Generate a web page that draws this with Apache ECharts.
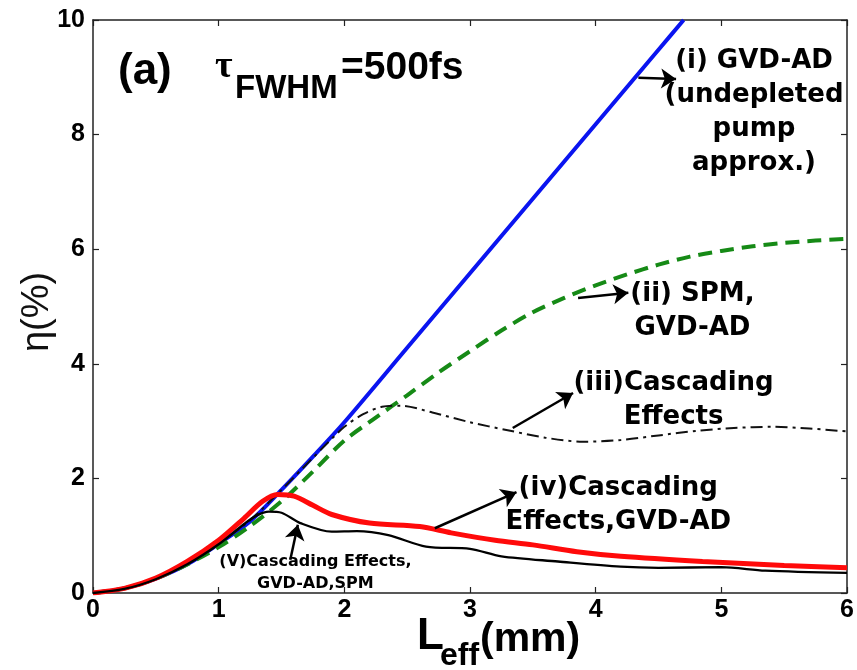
<!DOCTYPE html>
<html>
<head>
<meta charset="utf-8">
<script src="https://cdn.jsdelivr.net/npm/echarts@6/dist/echarts.min.js"></script>
<style>
  html, body { margin: 0; background: #fff; }
  #main { width: 857px; height: 670px; }
</style>
</head>
<body>
<div id="main"></div>
<script>
// (i) GVD-AD, undepleted pump
const gvdX = [0, 0.25, 0.5, 0.75, 1, 1.25, 1.5, 1.75, 2, 2.5, 3, 3.5, 4, 4.5, 4.7];
const gvdY = [0, 0.08, 0.25, 0.5, 0.86, 1.25, 1.8, 2.38, 2.98, 4.28, 5.58, 6.88, 8.18, 9.48, 10];
// (ii) SPM, GVD-AD
const spmX = [0, 0.25, 0.5, 0.75, 1, 1.25, 1.5, 1.75, 2, 2.25, 2.5, 2.75, 3, 3.25, 3.5, 3.75, 4, 4.25, 4.5, 4.75, 5, 5.25, 5.5, 5.75, 6];
const spmY = [0, 0.08, 0.25, 0.5, 0.8, 1.17, 1.6, 2.12, 2.66, 3.06, 3.45, 3.85, 4.22, 4.58, 4.9, 5.15, 5.37, 5.56, 5.73, 5.87, 5.97, 6.05, 6.11, 6.15, 6.18];
// (iii) cascading effects
const cascX = [0, 0.25, 0.5, 0.75, 1, 1.25, 1.5, 1.75, 2, 2.15, 2.3, 2.45, 2.7, 3, 3.3, 3.6, 3.9, 4.2, 4.5, 4.8, 5.1, 5.4, 5.7, 6];
const cascY = [0, 0.08, 0.25, 0.5, 0.86, 1.27, 1.8, 2.36, 2.9, 3.12, 3.25, 3.27, 3.15, 2.98, 2.84, 2.71, 2.64, 2.67, 2.75, 2.83, 2.88, 2.9, 2.87, 2.82];
// (iv) cascading effects, GVD-AD
const cgX = [0, 0.25, 0.5, 0.75, 1, 1.2, 1.35, 1.47, 1.6, 1.75, 1.9, 2.2, 2.6, 2.85, 3.2, 3.5, 3.85, 4.2, 4.85, 5.5, 6];
const cgY = [0, 0.08, 0.26, 0.55, 0.92, 1.3, 1.6, 1.72, 1.69, 1.53, 1.37, 1.22, 1.16, 1.05, 0.92, 0.84, 0.72, 0.64, 0.55, 0.48, 0.44];
// (v) cascading effects, GVD-AD, SPM
const cgsX = [0, 0.25, 0.5, 0.75, 1, 1.2, 1.3, 1.4, 1.5, 1.65, 1.9, 2.1, 2.35, 2.65, 3, 3.25, 3.7, 4.2, 4.5, 5, 5.35, 6];
const cgsY = [0, 0.07, 0.24, 0.5, 0.85, 1.2, 1.35, 1.42, 1.4, 1.22, 1.07, 1.08, 1.01, 0.81, 0.77, 0.64, 0.55, 0.46, 0.44, 0.45, 0.39, 0.35];

// annotation text blocks: [text, centre x, top y] in data units
const noteText = [
  '(i) GVD-AD\n(undepleted\npump\napprox.)',
  '(ii) SPM,\nGVD-AD',
  '(iii)Cascading\nEffects',
  '(iv)Cascading\nEffects,GVD-AD',
  '(V)Cascading Effects,\nGVD-AD,SPM'
];
const noteAt = [[5.26, 9.58], [4.77, 5.51], [4.62, 3.96], [4.18, 2.13], [1.77, 0.73]];
// arrows: [from, to] in data units
const arrows = [
  [[4.34, 8.99], [4.64, 8.97]],
  [[3.86, 5.15], [4.26, 5.24]],
  [[3.34, 2.88], [3.82, 3.49]],
  [[2.72, 1.13], [3.37, 1.76]],
  [[1.57, 0.58], [1.63, 1.19]]
];

const zip = (xs, ys) => xs.map((x, i) => [x, ys[i]]);
const chart = echarts.init(document.getElementById('main'));

const boxAxis = {
  min: 0,
  axisLine: { show: true, onZero: false, lineStyle: { color: '#222', width: 1.5 } },
  axisTick: { show: true, inside: true, length: 6, lineStyle: { color: '#222', width: 1.2 } },
  splitLine: { show: false },
};
const tickFont = { color: '#000', fontFamily: 'Liberation Sans', fontWeight: 'bold', fontSize: 25 };

const lineSeries = (name, data, color, width, type) => ({
  name, type: 'line', data, smooth: 0.3, showSymbol: false, symbol: 'none',
  lineStyle: { color, width, type: type || 'solid' }, animation: false,
});

chart.setOption({
  animation: false,
  grid: { left: 93, right: 10, top: 20, bottom: 77 },
  xAxis: [
    Object.assign({}, boxAxis, { type: 'value', max: 6, interval: 1, position: 'bottom',
      axisLabel: Object.assign({ margin: 5 }, tickFont) }),
    Object.assign({}, boxAxis, { type: 'value', max: 6, interval: 1, position: 'top', axisLabel: { show: false } }),
  ],
  yAxis: [
    Object.assign({}, boxAxis, { type: 'value', max: 10, interval: 2, position: 'left',
      axisLabel: Object.assign({ margin: 8 }, tickFont) }),
    Object.assign({}, boxAxis, { type: 'value', max: 10, interval: 2, position: 'right', axisLabel: { show: false } }),
  ],
  series: [
    lineSeries('(i)', zip(gvdX, gvdY), '#0a14f0', 4),
    lineSeries('(ii)', zip(spmX, spmY), '#168a16', 4, [14, 8]),
    lineSeries('(iii)', zip(cascX, cascY), '#111', 2, [12, 5, 3, 5]),
    lineSeries('(iv)', zip(cgX, cgY), '#ff0a0a', 5),
    Object.assign(lineSeries('(v)', zip(cgsX, cgsY), '#000', 2.3), {
      markLine: {
        silent: true,
        symbol: ['none', 'arrow'],
        symbolSize: 15,
        label: { show: false },
        lineStyle: { color: '#000', width: 2.5, type: 'solid' },
        data: arrows.map(a => [{ coord: a[0] }, { coord: a[1] }]),
      },
    }),
  ],
});

// text placed from data coordinates
const notes = noteText.map((t, i) => {
  const p = chart.convertToPixel({ gridIndex: 0 }, noteAt[i]);
  const small = i === 4;
  return {
    type: 'text', x: p[0], y: p[1], z: 20,
    style: {
      text: t, align: 'center', verticalAlign: 'top',
      fontFamily: 'DejaVu Sans', fontWeight: 'bold',
      fontSize: small ? 16 : 26, lineHeight: small ? 22 : 34, fill: '#000',
    },
  };
});

chart.setOption({
  graphic: notes.concat([
    { type: 'text', x: 118, y: 72, style: { text: '(a)', verticalAlign: 'middle',
      fontFamily: 'Liberation Sans', fontWeight: 'bold', fontSize: 44, fill: '#000' } },
    { type: 'text', x: 215, y: 67, style: { text: 'τ', verticalAlign: 'middle',
      fontFamily: 'Liberation Serif', fontWeight: 'bold', fontSize: 38, fill: '#000' } },
    { type: 'text', x: 235, y: 89, style: { text: 'FWHM', verticalAlign: 'middle',
      fontFamily: 'Liberation Sans', fontWeight: 'bold', fontSize: 33, fill: '#000' } },
    { type: 'text', x: 341, y: 68, style: { text: '=500fs', verticalAlign: 'middle',
      fontFamily: 'Liberation Sans', fontWeight: 'bold', fontSize: 39, fill: '#000' } },
    { type: 'text', x: 417, y: 637, style: { text: 'L', verticalAlign: 'middle',
      fontFamily: 'Liberation Sans', fontWeight: 'bold', fontSize: 44, fill: '#000' } },
    { type: 'text', x: 440, y: 656, style: { text: 'eff', verticalAlign: 'middle',
      fontFamily: 'Liberation Sans', fontWeight: 'bold', fontSize: 32, fill: '#000' } },
    { type: 'text', x: 480, y: 640, style: { text: '(mm)', verticalAlign: 'middle',
      fontFamily: 'Liberation Sans', fontWeight: 'bold', fontSize: 41, fill: '#000' } },
    { type: 'text', x: 38, y: 312, rotation: Math.PI / 2, style: { text: 'η(%)',
      align: 'center', verticalAlign: 'middle', fontFamily: 'Liberation Sans', fontSize: 38, fill: '#111' } },
  ]),
});
</script>
</body>
</html>
